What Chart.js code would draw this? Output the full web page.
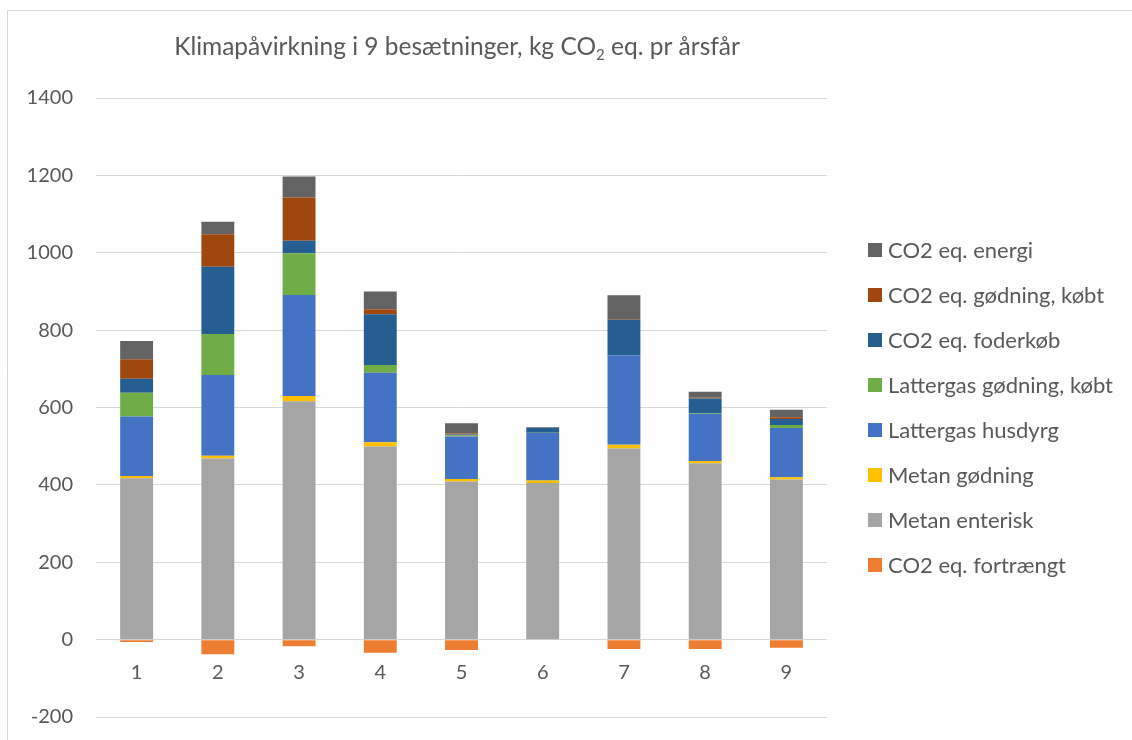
<!DOCTYPE html>
<html>
<head>
<meta charset="utf-8">
<title>Klimapåvirkning i 9 besætninger</title>
<script src="https://cdn.jsdelivr.net/npm/chart.js@4.4.1/dist/chart.umd.min.js"></script>
<style>
  html, body { margin: 0; padding: 0; background: #ffffff; }
  #wrap { position: relative; width: 1132px; height: 740px; }
</style>
</head>
<body>
<div id="wrap"><canvas id="chart" width="1132" height="740"></canvas></div>
<script>
// Herds (besætninger) 1–9
const categories = ['1', '2', '3', '4', '5', '6', '7', '8', '9'];

// kg CO2 eq. per årsfår, by source
const co2Fortraengt        = [-6, -38, -17, -34, -27, 0, -24, -24, -21];
const metanEnterisk        = [417, 468, 616, 499, 409, 405, 494, 456, 414];
const metanGodning         = [6, 7, 14, 11, 6, 6, 10, 6, 6];
const lattergasHusdyrg     = [154, 209, 261, 180, 110, 123, 231, 122, 127];
const lattergasGodningKobt = [61, 106, 108, 20, 3, 1, 0, 2, 8];
const co2Foderkob          = [36, 174, 32, 131, 2, 12, 91, 37, 15];
const co2GodningKobt       = [51, 84, 112, 13, 3, 0, 1, 2, 5];
const co2Energi            = [47, 32, 54, 46, 26, 2, 63, 16, 19];

// Y axis range and step
const yMin = -200;
const yMax = 1400;
const yStep = 200;

const titleMain = 'Klimapåvirkning i 9 besætninger, kg CO';
const titleSub = '2';
const titleEnd = ' eq. pr årsfår';

const FONT = 'Lato, "Open Sans", "DejaVu Sans", sans-serif';
const TEXT_COLOR = '#595959';
const GRID_COLOR = '#d9d9d9';

const datasets = [
  { label: 'CO2 eq. fortrængt',        data: co2Fortraengt,        backgroundColor: '#ED7D31' },
  { label: 'Metan enterisk',           data: metanEnterisk,        backgroundColor: '#A5A5A5' },
  { label: 'Metan gødning',            data: metanGodning,         backgroundColor: '#FFC000' },
  { label: 'Lattergas husdyrg',        data: lattergasHusdyrg,     backgroundColor: '#4472C4' },
  { label: 'Lattergas gødning, købt',  data: lattergasGodningKobt, backgroundColor: '#70AD47' },
  { label: 'CO2 eq. foderkøb',         data: co2Foderkob,          backgroundColor: '#255E91' },
  { label: 'CO2 eq. gødning, købt',    data: co2GodningKobt,       backgroundColor: '#9E480E' },
  { label: 'CO2 eq. energi',           data: co2Energi,            backgroundColor: '#636363' }
];

// Frame, title (with subscript) and legend on the right
const decorations = {
  id: 'decorations',
  beforeDraw(chart) {
    const ctx = chart.ctx;
    ctx.save();
    ctx.strokeStyle = GRID_COLOR;
    ctx.lineWidth = 1;
    ctx.beginPath();
    ctx.moveTo(7.5, 740);
    ctx.lineTo(7.5, 10.5);
    ctx.lineTo(1132, 10.5);
    ctx.stroke();
    ctx.restore();
  },
  afterDraw(chart) {
    const ctx = chart.ctx;
    ctx.save();
    // title
    ctx.fillStyle = TEXT_COLOR;
    ctx.textBaseline = 'alphabetic';
    const bigFont = '24.5px ' + FONT;
    const smallFont = '15px ' + FONT;
    ctx.font = bigFont;
    const w1 = ctx.measureText(titleMain).width;
    const w3 = ctx.measureText(titleEnd).width;
    ctx.font = smallFont;
    const w2 = ctx.measureText(titleSub).width;
    const total = w1 + w2 + w3;
    let x = 457 - total / 2;
    const base = 55;
    ctx.textAlign = 'left';
    ctx.font = bigFont;
    ctx.fillText(titleMain, x, base);
    x += w1;
    ctx.font = smallFont;
    ctx.fillText(titleSub, x, base + 5);
    x += w2;
    ctx.font = bigFont;
    ctx.fillText(titleEnd, x, base);

    // legend, last series on top
    ctx.font = '22px ' + FONT;
    ctx.textBaseline = 'middle';
    const ds = chart.data.datasets;
    for (let i = 0; i < ds.length; i++) {
      const d = ds[ds.length - 1 - i];
      const cy = 250 + i * 45;
      ctx.fillStyle = d.backgroundColor;
      ctx.fillRect(868, cy - 7, 14, 14);
      ctx.fillStyle = TEXT_COLOR;
      ctx.fillText(d.label, 888, cy + 1);
    }
    ctx.restore();
  }
};

new Chart(document.getElementById('chart'), {
  type: 'bar',
  data: { labels: categories, datasets: datasets },
  options: {
    responsive: false,
    animation: false,
    layout: { padding: { top: 98, right: 305, bottom: 23, left: 0 } },
    datasets: {
      bar: { categoryPercentage: 1.0, barPercentage: 0.405, borderWidth: 0 }
    },
    plugins: {
      legend: { display: false },
      title: { display: false },
      tooltip: { enabled: false }
    },
    scales: {
      x: {
        stacked: true,
        position: { y: 0 },
        grid: { display: false, drawTicks: false },
        border: { display: false },
        ticks: { color: TEXT_COLOR, font: { family: FONT, size: 20 }, padding: 21 },
        afterFit(scale) { scale.height = 0; }
      },
      y: {
        stacked: true,
        min: yMin,
        max: yMax,
        grid: { color: GRID_COLOR, lineWidth: 1, drawTicks: false },
        border: { display: false },
        ticks: {
          stepSize: yStep,
          color: TEXT_COLOR,
          font: { family: FONT, size: 20 },
          padding: 23,
          callback: (v) => String(v)
        },
        afterFit(scale) {
          scale.width = 96;
          scale.paddingTop = 0;
          scale.paddingBottom = 0;
        }
      }
    }
  },
  plugins: [decorations]
});
</script>
</body>
</html>
